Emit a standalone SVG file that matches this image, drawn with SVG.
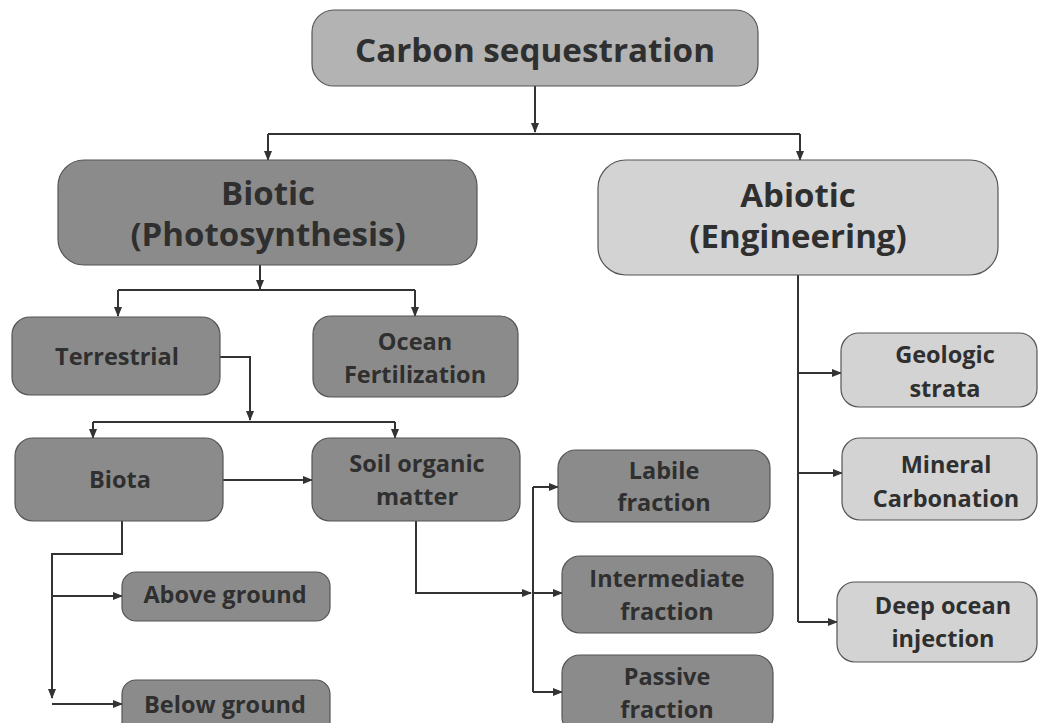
<svg xmlns="http://www.w3.org/2000/svg" width="1038" height="723" viewBox="0 0 1038 723">
<defs>
<marker id="ah" markerUnits="userSpaceOnUse" markerWidth="10" markerHeight="8" refX="9" refY="4" orient="auto">
<path d="M0,0 L10,4 L0,8 Z" fill="#333"/>
</marker>
<style>
.box{stroke:#555;stroke-width:1.2}
.dark{fill:#8b8b8b}
.mid{fill:#b3b3b3}
.light{fill:#d3d3d3}
text{font-family:"Open Sans","Liberation Sans",sans-serif;font-weight:bold;fill:#2f2f2f;text-anchor:middle}
.big{font-size:33px}
.sm{font-size:23.5px}
.c{stroke:#333;stroke-width:2;fill:none}
.a{marker-end:url(#ah)}
</style>
</defs>
<rect width="1038" height="723" fill="#fff"/>
<g id="connectors">
<path class="c a" d="M535,86 V132"/>
<path class="c" d="M268,134 H800"/>
<path class="c a" d="M268,134 V160"/>
<path class="c a" d="M800,134 V160"/>
<path class="c a" d="M260,265 V289"/>
<path class="c" d="M118,290 H415"/>
<path class="c a" d="M118,290 V316"/>
<path class="c a" d="M415,290 V316"/>
<path class="c a" d="M220,357 H250 V420"/>
<path class="c" d="M93,422 H395"/>
<path class="c a" d="M93,422 V438"/>
<path class="c a" d="M395,422 V438"/>
<path class="c a" d="M223,480 H312"/>
<path class="c a" d="M122,521 V554 H52 V698"/>
<path class="c a" d="M52,596 H122"/>
<path class="c a" d="M52,704 H122"/>
<path class="c a" d="M416,521 V593 H531"/>
<path class="c" d="M533,487 V692"/>
<path class="c a" d="M533,487 H558"/>
<path class="c a" d="M533,593 H562"/>
<path class="c a" d="M533,692 H562"/>
<path class="c" d="M798,275 V622"/>
<path class="c a" d="M798,373 H841"/>
<path class="c a" d="M798,473 H842"/>
<path class="c a" d="M798,622 H837"/>
</g>
<g id="carbon-sequestration">
<rect class="box mid" x="312" y="10" width="446" height="76" rx="22"/>
<text x="535" y="62" style="font-size:32px" textLength="360" lengthAdjust="spacingAndGlyphs">Carbon sequestration</text>
</g>
<g id="biotic">
<rect class="box dark" x="58" y="160" width="419" height="105" rx="26"/>
<text class="big" x="268" y="205">Biotic</text>
<text class="big" x="268" y="246">(Photosynthesis)</text>
</g>
<g id="abiotic">
<rect class="box light" x="598" y="160" width="400" height="115" rx="28"/>
<text class="big" x="798" y="207">Abiotic</text>
<text class="big" x="798" y="248">(Engineering)</text>
</g>
<g id="terrestrial">
<rect class="box dark" x="12" y="317" width="208" height="78" rx="18"/>
<text class="sm" x="117" y="365">Terrestrial</text>
</g>
<g id="ocean-fertilization">
<rect class="box dark" x="313" y="316" width="205" height="81" rx="18"/>
<text class="sm" x="415" y="350">Ocean</text>
<text class="sm" x="415" y="383">Fertilization</text>
</g>
<g id="biota">
<rect class="box dark" x="15" y="438" width="208" height="83" rx="18"/>
<text class="sm" x="120" y="488">Biota</text>
</g>
<g id="soil-organic-matter">
<rect class="box dark" x="312" y="438" width="208" height="83" rx="18"/>
<text class="sm" x="417" y="472">Soil organic</text>
<text class="sm" x="417" y="505">matter</text>
</g>
<g id="above-ground">
<rect class="box dark" x="122" y="572" width="208" height="49" rx="14"/>
<text class="sm" x="225" y="603">Above ground</text>
</g>
<g id="below-ground">
<rect class="box dark" x="122" y="680" width="208" height="60" rx="14"/>
<text class="sm" x="225" y="713">Below ground</text>
</g>
<g id="labile-fraction">
<rect class="box dark" x="558" y="450" width="212" height="72" rx="18"/>
<text class="sm" x="664" y="479">Labile</text>
<text class="sm" x="664" y="511">fraction</text>
</g>
<g id="intermediate-fraction">
<rect class="box dark" x="562" y="556" width="211" height="77" rx="18"/>
<text class="sm" x="667" y="587">Intermediate</text>
<text class="sm" x="667" y="620">fraction</text>
</g>
<g id="passive-fraction">
<rect class="box dark" x="562" y="655" width="211" height="80" rx="18"/>
<text class="sm" x="667" y="685">Passive</text>
<text class="sm" x="667" y="718">fraction</text>
</g>
<g id="geologic-strata">
<rect class="box light" x="841" y="333" width="196" height="74" rx="18"/>
<text class="sm" x="945" y="363">Geologic</text>
<text class="sm" x="945" y="397">strata</text>
</g>
<g id="mineral-carbonation">
<rect class="box light" x="842" y="438" width="195" height="82" rx="18"/>
<text class="sm" x="946" y="473">Mineral</text>
<text class="sm" x="946" y="507">Carbonation</text>
</g>
<g id="deep-ocean-injection">
<rect class="box light" x="837" y="582" width="200" height="80" rx="18"/>
<text class="sm" x="943" y="614">Deep ocean</text>
<text class="sm" x="943" y="647">injection</text>
</g>
</svg>
